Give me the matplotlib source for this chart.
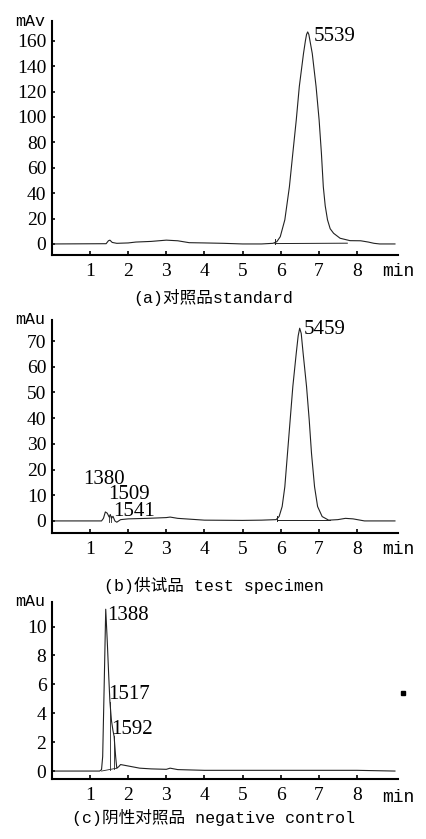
import matplotlib
matplotlib.use("Agg")
import matplotlib.pyplot as plt
from matplotlib.lines import Line2D

# ---------------- data ----------------
# (a) standard
t_a = [0.0, 1.42, 1.48, 1.52, 1.58, 1.7, 2.0, 2.2, 2.6, 3.0, 3.3, 3.6, 4.0, 4.5, 5.0, 5.5,
       5.8, 5.9, 5.99, 6.11, 6.23, 6.32, 6.41, 6.49, 6.6, 6.65, 6.68, 6.71, 6.74, 6.77,
       6.83, 6.93, 7.01, 7.07, 7.12, 7.17, 7.23, 7.3, 7.39, 7.56, 7.82, 8.1, 8.3, 8.45,
       8.6, 9.0]
y_a = [0.0, 0.2, 2.5, 3.0, 1.2, 0.5, 0.8, 1.5, 2.0, 3.0, 2.5, 1.0, 0.8, 0.5, 0.0, 0.0,
       0.5, 1.8, 5.7, 19.0, 45.0, 71.5, 97.6, 124.0, 150.0, 160.0, 165.0, 167.0, 165.0, 160.0,
       150.0, 124.0, 97.6, 71.5, 45.0, 30.0, 19.0, 12.0, 8.4, 4.5, 2.6, 2.5, 1.5, 0.5,
       0.0, 0.0]
base_a_t = [5.85, 7.75]
base_a_y = [0.3, 0.6]
yt_a = [0, 20, 40, 60, 80, 100, 120, 140, 160]

# (b) test specimen
t_b = [0.0, 1.3, 1.35, 1.4, 1.45, 1.5, 1.53, 1.56, 1.6, 1.65, 1.7, 1.8, 2.0, 2.5, 3.0, 3.1,
       3.3, 4.0, 5.0, 5.5, 5.88, 5.96, 6.04, 6.11, 6.18, 6.25, 6.32, 6.41, 6.46, 6.5,
       6.54, 6.59, 6.68, 6.75, 6.81, 6.89, 6.97, 7.09, 7.26, 7.5, 7.7, 7.9, 8.2, 9.0]
y_b = [0.0, 0.0, 1.0, 3.5, 3.0, 1.5, 2.5, 1.0, 1.8, 0.0, -0.5, 0.5, 0.8, 1.0, 1.3, 1.5,
       1.0, 0.3, 0.2, 0.3, 0.5, 1.7, 5.6, 13.3, 26.3, 39.3, 52.3, 65.3, 72.0, 75.0,
       73.0, 65.3, 52.3, 39.3, 26.3, 13.3, 5.6, 1.7, 0.3, 0.5, 1.0, 0.8, 0.0, 0.0]
base_b_t = [5.9, 7.3]
base_b_y = [0.3, 0.3]
yt_b = [0, 10, 20, 30, 40, 50, 60, 70]

# (c) negative control
t_c = [0.0, 1.25, 1.3, 1.33, 1.37, 1.41, 1.45, 1.49, 1.52, 1.56, 1.6, 1.63, 1.67, 1.7,
       1.75, 1.8, 1.9, 2.0, 2.3, 2.6, 3.0, 3.1, 3.3, 4.0, 6.4, 8.0, 9.0]
y_c = [0.0, 0.0, 0.1, 1.0, 6.0, 11.2, 9.0, 6.5, 4.8, 3.5, 2.8, 2.4, 1.0, 0.2,
       0.3, 0.45, 0.4, 0.35, 0.2, 0.15, 0.12, 0.2, 0.1, 0.05, 0.05, 0.05, 0.0]
yt_c = [0, 2, 4, 6, 8, 10]

xt = [1, 2, 3, 4, 5, 6, 7, 8]

# ---------------- style ----------------
W, H = 427, 839
fig = plt.figure(figsize=(W / 100, H / 100), dpi=100)
serif = "Liberation Serif"
mono_cjk = ["Liberation Mono", "Noto Sans CJK SC"]
lc = "#222222"


def make_ax(rect, t, y, yt, ylim, ylab, min_off):
    ax = fig.add_axes(rect)
    ax.plot(t, y, color=lc, lw=0.8)
    ax.set_xlim(0, 9.08)
    ax.set_ylim(*ylim)
    for s in ("top", "right"):
        ax.spines[s].set_visible(False)
    for s in ("left", "bottom"):
        ax.spines[s].set_linewidth(1.5)
        ax.spines[s].set_color("black")
    ax.set_xticks(xt)
    ax.set_xticklabels([str(v) for v in xt], fontfamily=serif, fontsize=14)
    ax.set_yticks(yt)
    ax.set_yticklabels([str(v) for v in yt], fontfamily=serif, fontsize=14)
    ax.tick_params(axis="x", direction="in", length=3, width=1.2, pad=6)
    ax.tick_params(axis="y", direction="in", length=2.5, width=1.2, pad=4)
    ax.annotate("min", xy=(0.954, 0), xycoords="axes fraction",
                xytext=(0, -min_off), textcoords="offset pixels",
                ha="left", va="center", fontfamily="Liberation Mono", fontsize=13)
    ax.text(-0.02, 1.0, ylab, transform=ax.transAxes, ha="right", va="center",
            fontfamily="Liberation Mono", fontsize=12)
    return ax


ax_a = make_ax([52 / W, 1 - 255 / H, 346 / W, 234 / H], t_a, y_a, yt_a, (-8.7, 175.6), "mAv", 16)
ax_a.plot(base_a_t, base_a_y, color=lc, lw=0.7)
ax_a.plot([5.85, 5.85], [0, 4], color=lc, lw=0.7)
ax_a.text(6.86, 163, "5539", fontfamily=serif, fontsize=15, ha="left", va="center")

ax_b = make_ax([52 / W, 1 - 533 / H, 346 / W, 213 / H], t_b, y_b, yt_b, (-4.7, 78.2), "mAu", 16)
ax_b.plot(base_b_t, base_b_y, color=lc, lw=0.7)
ax_b.plot([5.9, 5.9], [0, 2], color=lc, lw=0.7)
for tx in (1.5, 1.56):
    ax_b.plot([tx, tx], [-0.3, 2.0], color=lc, lw=0.6)
ax_b.text(6.6, 74.5, "5459", fontfamily=serif, fontsize=15, ha="left", va="center")
ax_b.text(0.82, 16.0, "1380", fontfamily=serif, fontsize=15, ha="left", va="center")
ax_b.text(1.47, 10.3, "1509", fontfamily=serif, fontsize=15, ha="left", va="center")
ax_b.text(1.6, 3.6, "1541", fontfamily=serif, fontsize=15, ha="left", va="center")

ax_c = make_ax([52 / W, 1 - 779 / H, 346 / W, 177 / H], t_c, y_c, yt_c, (-0.55, 11.7), "mAu", 18)
ax_c.plot([1.3, 1.7], [0.0, 0.2], color=lc, lw=0.6)
ax_c.plot([1.52, 1.52], [0.1, 4.8], color=lc, lw=0.6)
ax_c.plot([1.63, 1.63], [0.15, 2.4], color=lc, lw=0.6)
ax_c.text(1.44, 10.8, "1388", fontfamily=serif, fontsize=15, ha="left", va="center")
ax_c.text(1.47, 5.3, "1517", fontfamily=serif, fontsize=15, ha="left", va="center")
ax_c.text(1.56, 2.9, "1592", fontfamily=serif, fontsize=15, ha="left", va="center")

# captions
fig.text(0.5, 1 - 298 / H, "(a)对照品standard", ha="center", va="center",
         fontfamily=mono_cjk, fontsize=12)
fig.text(0.5, 1 - 585 / H, "(b)供试品 test specimen", ha="center", va="center",
         fontfamily=mono_cjk, fontsize=12)
fig.text(0.5, 1 - 818 / H, "(c)阴性对照品 negative control", ha="center", va="center",
         fontfamily=mono_cjk, fontsize=12)

# stray dot
fig.add_artist(Line2D([403 / W], [1 - 693 / H], marker="s", markersize=2.5,
                      color="black", transform=fig.transFigure))

fig.savefig("out.png", dpi=100)
